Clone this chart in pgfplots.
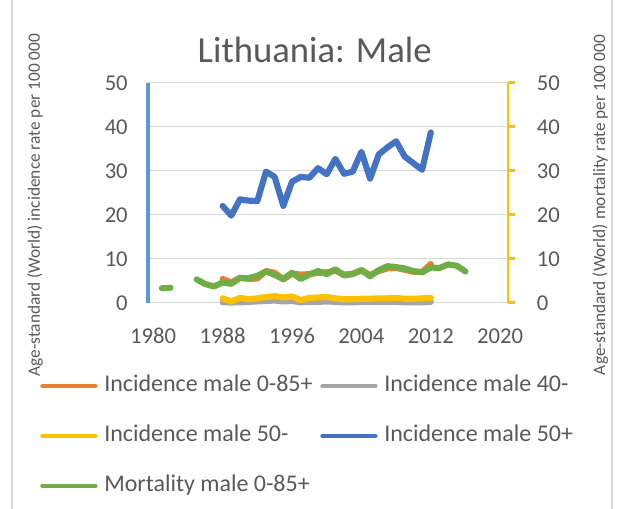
\documentclass[border=0pt]{standalone}
\usepackage{pgfplots}
\pgfplotsset{compat=1.18}
\usepackage{fontspec}
\setmainfont{Carlito}
\definecolor{cOrange}{HTML}{ED7D31}
\definecolor{cGrey}{HTML}{A5A5A5}
\definecolor{cYellow}{HTML}{FFC000}
\definecolor{cBlue}{HTML}{4472C4}
\definecolor{cGreen}{HTML}{70AD47}
\definecolor{axBlue}{HTML}{5B9BD5}
\definecolor{gridgrey}{HTML}{D9D9D9}
\definecolor{textgrey}{HTML}{595959}
\begin{document}
\begin{tikzpicture}[x=1pt,y=1pt]
\useasboundingbox (0,0) rectangle (468.75,381.75);
\draw[gridgrey, line width=0.8pt] (9,0) -- (9,381.75);
\draw[gridgrey, line width=0.8pt] (459,0) -- (459,381.75);
\node[text=textgrey, font=\fontsize{27.5}{32}\selectfont] at (236,344) {Lithuania: Male};
\begin{axis}[
  at={(111pt,154.7pt)}, anchor=south west, scale only axis,
  width=270pt, height=165pt,
  xmin=1979.4, xmax=2020.9, ymin=0, ymax=50,
  axis x line*=bottom, axis y line*=left,
  x axis line style={gridgrey, line width=1.1pt, -},
  y axis line style={axBlue, line width=2.5pt, -},
  xtick={1980,1988,1996,2004,2012,2020},
  ytick={0,10,...,50},
  major tick length=0pt,
  tick style={draw=none},
  ymajorgrids, major grid style={gridgrey, line width=1.1pt},
  unbounded coords=jump,
  /pgf/number format/assume math mode=true,
  /pgf/number format/1000 sep={},
  tick label style={font=\fontsize{17}{20}\selectfont, text=textgrey},
  yticklabel style={anchor=east, inner sep=0pt, xshift=-15pt},
  xticklabel style={anchor=north, inner sep=0pt, yshift=-19pt},
  every axis y label/.style={at={(axis description cs:-0.314,0.444)}, rotate=90, anchor=center, font=\fontsize{13}{15}\selectfont, text=textgrey},
  ylabel={Age-standard (World) incidence rate per 100 000},
  clip=false,
  every axis plot/.append style={line width=4.6pt, line join=round, line cap=round},
  legend columns=2,
  legend cell align=left,
  legend image code/.code={\draw[#1, line width=3pt] (0pt,0pt) -- (40pt,0pt);},
  legend style={at={(-0.3,-0.3255)}, anchor=north west, draw=none, fill=none, inner sep=0pt,
    nodes={inner sep=0pt, text height=13pt, text depth=4pt, text=textgrey, font=\fontsize{18}{21}\selectfont},
    column sep=5pt, row sep=20.5pt},
]
\addplot[cOrange] coordinates {
(1988,5.4)(1989,4.6)(1990,5.7)(1991,5.4)(1992,5.5)(1993,7.2)(1994,6.8)(1995,5.3)(1996,6.6)(1997,6.4)(1998,6.5)(1999,6.8)(2000,6.9)(2001,7.3)(2002,6.4)(2003,6.6)(2004,7.4)(2005,6.3)(2006,7.2)(2007,7.8)(2008,7.9)(2009,7.5)(2010,7.0)(2011,7.0)(2012,8.8)};
\addlegendentry{\makebox[157pt][l]{Incidence male 0-85+}}
\addplot[cGrey] coordinates {
(1988,0.1)(1989,0.05)(1990,0.1)(1991,0.2)(1992,0.3)(1993,0.4)(1994,0.5)(1995,0.3)(1996,0.4)(1997,0.1)(1998,0.2)(1999,0.2)(2000,0.3)(2001,0.2)(2002,0.1)(2003,0.1)(2004,0.2)(2005,0.2)(2006,0.2)(2007,0.2)(2008,0.2)(2009,0.1)(2010,0.1)(2011,0.1)(2012,0.2)};
\addlegendentry{Incidence male 40-}
\addplot[cYellow] coordinates {
(1988,1.0)(1989,0.3)(1990,1.1)(1991,0.8)(1992,1.0)(1993,1.3)(1994,1.5)(1995,1.2)(1996,1.4)(1997,0.6)(1998,1.1)(1999,1.2)(2000,1.3)(2001,1.0)(2002,0.8)(2003,0.8)(2004,0.9)(2005,0.9)(2006,1.0)(2007,1.0)(2008,1.1)(2009,0.9)(2010,0.9)(2011,1.0)(2012,1.1)};
\addlegendentry{\makebox[157pt][l]{Incidence male 50-}}
\addplot[cBlue] coordinates {
(1988,22.0)(1989,19.8)(1990,23.5)(1991,23.2)(1992,23.1)(1993,29.8)(1994,28.6)(1995,22.0)(1996,27.5)(1997,28.6)(1998,28.4)(1999,30.6)(2000,29.2)(2001,32.7)(2002,29.3)(2003,29.8)(2004,34.3)(2005,28.2)(2006,33.7)(2007,35.3)(2008,36.7)(2009,33.2)(2010,31.7)(2011,30.2)(2012,38.7)};
\addlegendentry{Incidence male 50+}
\addplot[cGreen] coordinates {
(1981,3.3)(1982,3.4)
(1983,nan)
(1985,5.3)(1986,4.25)(1987,3.7)(1988,4.6)(1989,4.3)(1990,5.6)(1991,5.6)(1992,6.1)(1993,7.1)(1994,6.3)(1995,5.4)(1996,6.8)(1997,5.4)(1998,6.4)(1999,7.2)(2000,6.5)(2001,7.6)(2002,6.2)(2003,6.5)(2004,7.4)(2005,6.0)(2006,7.4)(2007,8.3)(2008,8.1)(2009,7.8)(2010,7.2)(2011,6.9)(2012,8.0)(2013,7.9)(2014,8.7)(2015,8.4)(2016,7.1)};
\addlegendentry{Mortality male 0-85+}
\end{axis}
\begin{axis}[
  at={(111pt,154.7pt)}, anchor=south west, scale only axis,
  width=270pt, height=165pt,
  xmin=1979.4, xmax=2020.9, ymin=0, ymax=50,
  axis x line=none, axis y line*=right,
  y axis line style={cYellow, line width=2.2pt, -},
  ytick={0,10,...,50},
  tick align=outside, major tick length=5pt,
  ytick style={cYellow, line width=2.2pt},
  /pgf/number format/assume math mode=true,
  tick label style={font=\fontsize{17}{20}\selectfont, text=textgrey},
  yticklabel style={anchor=west, inner sep=0pt, xshift=16.5pt},
  every axis y label/.style={at={(axis description cs:1.256,0.444)}, rotate=90, anchor=center, font=\fontsize{13}{15}\selectfont, text=textgrey},
  ylabel={Age-standard (World) mortality rate per 100 000},
]
\addplot[draw=none] coordinates {(1990,0)};
\end{axis}
\end{tikzpicture}
\end{document}
